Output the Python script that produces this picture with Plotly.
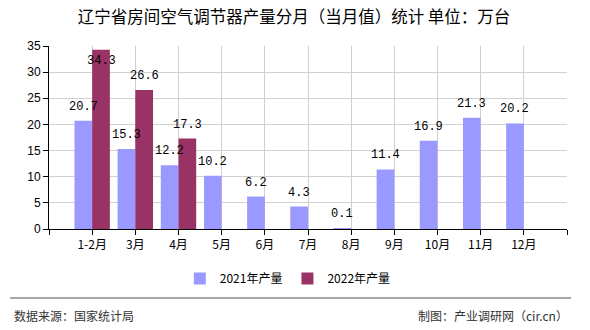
import plotly.graph_objects as go

categories = ["1-2月", "3月", "4月", "5月", "6月", "7月", "8月", "9月", "10月", "11月", "12月"]
values_2021 = [20.7, 15.3, 12.2, 10.2, 6.2, 4.3, 0.1, 11.4, 16.9, 21.3, 20.2]
values_2022 = [34.3, 26.6, 17.3, None, None, None, None, None, None, None, None]
series_names = ["2021年产量", "2022年产量"]
colors = ["#9999FF", "#993366"]
y_max = 35

xs = list(range(len(categories)))

fig = go.Figure()
fig.add_trace(go.Bar(x=xs, y=values_2021, name=series_names[0], marker_color=colors[0], marker_line_width=0))
fig.add_trace(go.Bar(x=[x for x, v in zip(xs, values_2022) if v is not None],
                     y=[v for v in values_2022 if v is not None],
                     name=series_names[1], marker_color=colors[1], marker_line_width=0))

bargap = 0.18
half = (1 - bargap) / 4
annotations = []
for vals, off in ((values_2021, -half), (values_2022, half)):
    for x, v in zip(xs, vals):
        if v is None:
            continue
        fits = v < y_max * 0.9
        annotations.append(dict(
            x=x + off, y=v, xref="x", yref="y", text=f"{v:.1f}", showarrow=False,
            yanchor="bottom" if fits else "top", yshift=5 if fits else -2,
            font=dict(family="Liberation Mono, DejaVu Sans Mono, monospace", size=12, color="#000")))

annotations += [
    dict(text="数据来源：国家统计局", x=-0.072, y=-0.475, xref="paper", yref="paper",
         xanchor="left", yanchor="middle", showarrow=False,
         font=dict(family="Noto Sans CJK SC", size=12, color="#333")),
    dict(text="制图：产业调研网（cir.cn）", x=1.006, y=-0.475, xref="paper", yref="paper",
         xanchor="right", yanchor="middle", showarrow=False,
         font=dict(family="Noto Sans CJK SC", size=12, color="#333")),
]

fig.update_layout(
    width=590, height=330,
    margin=dict(l=49, r=23, t=46, b=101),
    paper_bgcolor="white", plot_bgcolor="white",
    barmode="group", bargap=bargap, bargroupgap=0,
    title=dict(text="辽宁省房间空气调节器产量分月（当月值）统计 单位：万台",
               x=294 / 590, xref="container", xanchor="center",
               y=1 - 17 / 330, yref="container", yanchor="middle",
               font=dict(family="Noto Sans CJK SC", size=16.5, color="#000")),
    font=dict(family="Noto Sans CJK SC", size=12, color="#000"),
    xaxis=dict(range=[-1, len(categories)], tickmode="array",
               tickvals=list(range(-1, len(categories) + 1)),
               ticktext=[""] + categories + [""],
               showgrid=True, gridcolor="#d0d0d0", gridwidth=1,
               showline=True, linecolor="#000", linewidth=1,
               ticks="outside", ticklen=5, tickcolor="#000", zeroline=False,
               tickfont=dict(family="Noto Sans CJK SC", size=12, color="#000")),
    yaxis=dict(range=[0, y_max], dtick=5, showgrid=True, gridcolor="#d0d0d0", gridwidth=1,
               showline=True, linecolor="#000", linewidth=1,
               ticks="outside", ticklen=5, tickcolor="#000", zeroline=False,
               tickfont=dict(family="Liberation Sans, Arial", size=12, color="#000")),
    legend=dict(orientation="h", x=0.461, xanchor="center", y=-0.27, yanchor="middle",
                font=dict(family="Noto Sans CJK SC", size=12, color="#000"),
                itemwidth=30, traceorder="normal"),
    annotations=annotations,
    shapes=[dict(type="line", xref="paper", yref="paper", x0=-0.075, x1=1.0077,
                 y0=-0.377, y1=-0.377, line=dict(color="#888", width=1.5))],
)

fig.write_html("out.html")
